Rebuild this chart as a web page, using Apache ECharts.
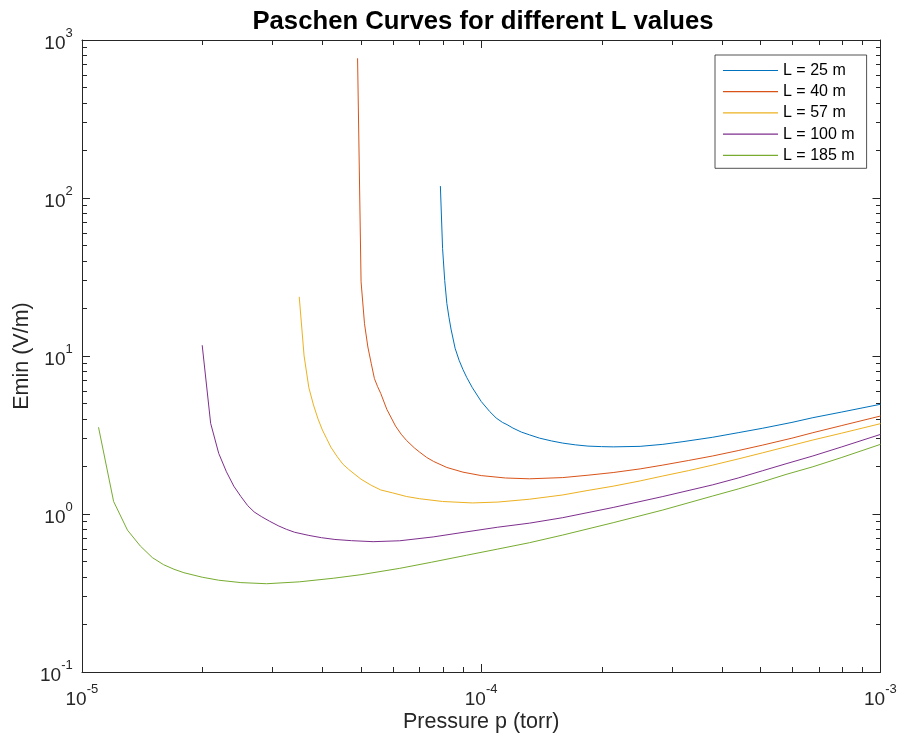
<!DOCTYPE html>
<html>
<head>
<meta charset="utf-8">
<script src="https://cdn.jsdelivr.net/npm/echarts@6/dist/echarts.min.js"></script>
<style>
html,body{margin:0;padding:0;background:#fff;}
#chart{width:900px;height:738px;}
</style>
</head>
<body>
<div id="chart"></div>
<script>
// ---- Data (pressure p in torr, Emin in V/m) ----
const seriesNames = ['L = 25 m', 'L = 40 m', 'L = 57 m', 'L = 100 m', 'L = 185 m'];

const curveL25 = [
  [7.9e-5, 119], [8.0e-5, 48], [8.1e-5, 30], [8.2e-5, 21.5], [8.3e-5, 17.6], [8.4e-5, 14.8],
  [8.6e-5, 11.2], [8.8e-5, 9.4], [9.0e-5, 8.2], [9.2e-5, 7.3], [9.5e-5, 6.3], [1.0e-4, 5.15],
  [1.05e-4, 4.45], [1.09e-4, 4.05], [1.13e-4, 3.8], [1.16e-4, 3.68], [1.2e-4, 3.5], [1.26e-4, 3.3],
  [1.32e-4, 3.17], [1.4e-4, 3.02], [1.5e-4, 2.9], [1.6e-4, 2.81], [1.72e-4, 2.74], [1.85e-4, 2.69],
  [2.0e-4, 2.67], [2.14e-4, 2.66], [2.5e-4, 2.68], [2.85e-4, 2.76], [3.2e-4, 2.87],
  [3.8e-4, 3.06], [4.4e-4, 3.27], [5.07e-4, 3.49], [6.0e-4, 3.8], [6.77e-4, 4.07], [8.0e-4, 4.42],
  [1.0e-3, 4.95]
];
const curveL40 = [
  [4.9e-5, 766], [5.0e-5, 29.5], [5.1e-5, 16], [5.2e-5, 11.4], [5.3e-5, 9.0], [5.4e-5, 7.2],
  [5.5e-5, 6.4], [5.6e-5, 5.8], [5.8e-5, 4.6], [6.1e-5, 3.6], [6.3e-5, 3.2], [6.5e-5, 2.92],
  [6.8e-5, 2.62], [7.0e-5, 2.47], [7.3e-5, 2.28], [7.6e-5, 2.15], [8.2e-5, 1.97], [9.0e-5, 1.84],
  [1.0e-4, 1.75], [1.15e-4, 1.69], [1.32e-4, 1.67], [1.6e-4, 1.70], [1.85e-4, 1.76], [2.14e-4, 1.83],
  [2.5e-4, 1.93], [2.85e-4, 2.04], [3.3e-4, 2.18], [3.8e-4, 2.33], [4.4e-4, 2.52], [5.07e-4, 2.73],
  [6.0e-4, 3.02], [6.77e-4, 3.27], [8.0e-4, 3.63], [1.0e-3, 4.17]
];
const curveL57 = [
  [3.5e-5, 23.7], [3.6e-5, 10], [3.7e-5, 6.3], [3.8e-5, 4.9], [3.9e-5, 4.0], [4.0e-5, 3.4],
  [4.1e-5, 3.0], [4.2e-5, 2.65], [4.35e-5, 2.32], [4.5e-5, 2.07], [4.65e-5, 1.92], [4.8e-5, 1.8],
  [5.0e-5, 1.66], [5.3e-5, 1.52], [5.6e-5, 1.42], [6.0e-5, 1.36], [6.5e-5, 1.29], [7.0e-5, 1.25],
  [8.0e-5, 1.2], [9.5e-5, 1.175], [1.1e-4, 1.19], [1.32e-4, 1.24], [1.6e-4, 1.32], [1.85e-4, 1.41],
  [2.14e-4, 1.50], [2.5e-4, 1.62], [2.85e-4, 1.74], [3.3e-4, 1.88], [3.8e-4, 2.04], [4.4e-4, 2.23],
  [5.07e-4, 2.44], [6.0e-4, 2.72], [6.77e-4, 2.94], [8.0e-4, 3.25], [1.0e-3, 3.73]
];
const curveL100 = [
  [2.0e-5, 11.7], [2.1e-5, 3.75], [2.2e-5, 2.42], [2.3e-5, 1.85], [2.4e-5, 1.5], [2.5e-5, 1.29],
  [2.6e-5, 1.13], [2.7e-5, 1.03], [2.82e-5, 0.96], [2.95e-5, 0.9], [3.1e-5, 0.843], [3.25e-5, 0.8],
  [3.41e-5, 0.766], [3.7e-5, 0.732], [3.98e-5, 0.708], [4.3e-5, 0.69], [4.73e-5, 0.678],
  [5.36e-5, 0.668], [6.25e-5, 0.677], [7.58e-5, 0.716], [9.0e-5, 0.765],
  [1.1e-4, 0.825], [1.32e-4, 0.875], [1.6e-4, 0.948], [2.14e-4, 1.10], [2.85e-4, 1.29],
  [3.8e-4, 1.53], [4.4e-4, 1.69], [5.07e-4, 1.88], [5.8e-4, 2.08], [6.77e-4, 2.33], [8.0e-4, 2.66],
  [1.0e-3, 3.19]
];
const curveL185 = [
  [1.1e-5, 3.54], [1.2e-5, 1.2], [1.3e-5, 0.79], [1.4e-5, 0.627], [1.5e-5, 0.53], [1.6e-5, 0.478],
  [1.7e-5, 0.447], [1.8e-5, 0.425], [2.0e-5, 0.398], [2.2e-5, 0.381], [2.5e-5, 0.368], [2.9e-5, 0.362],
  [3.5e-5, 0.372], [4.26e-5, 0.392], [5.0e-5, 0.413], [6.25e-5, 0.453], [7.5e-5, 0.495],
  [9.18e-5, 0.548], [1.1e-4, 0.6], [1.32e-4, 0.658], [1.6e-4, 0.736], [2.14e-4, 0.881],
  [2.85e-4, 1.06], [3.8e-4, 1.30], [4.4e-4, 1.44], [5.07e-4, 1.60], [5.8e-4, 1.78], [6.77e-4, 1.99],
  [8.0e-4, 2.28], [1.0e-3, 2.76]
];
const curves = [curveL25, curveL40, curveL57, curveL100, curveL185];

// axis ranges (powers of ten)
const xExpRange = [-5, -3];
const yExpRange = [-1, 3];

// ---- Styling ----
const colors = ['#0072BD', '#D95319', '#EDB120', '#7E2F8E', '#77AC30'];
const axisColor = '#262626';
const FONT = '"Liberation Sans", Arial, Helvetica, sans-serif';

function minorTicks(e0, e1) {
  const out = [];
  for (let e = e0; e < e1; e++) {
    for (let k = 2; k <= 9; k++) out.push(e + Math.log10(k));
  }
  return out;
}
const xMinor = minorTicks(xExpRange[0], xExpRange[1]);
const yMinor = minorTicks(yExpRange[0], yExpRange[1]);

const richPow = {
  b: { fontSize: 19, lineHeight: 19, verticalAlign: 'bottom', color: axisColor, fontFamily: FONT },
  s: { fontSize: 13, lineHeight: 13, verticalAlign: 'top', color: axisColor, fontFamily: FONT },
  h: { fontSize: 1, lineHeight: 26.5, verticalAlign: 'middle', color: 'rgba(0,0,0,0)', fontFamily: FONT }
};
function powLabel(v) {
  const e = Math.round(Math.log10(v));
  return '{b|10}{s|' + e + '}{h| }';
}

const gridRect = { left: 82, right: 19, top: 40, bottom: 66 };
const hiddenLine = { show: false, onZero: false };

const option = {
  animation: false,
  backgroundColor: '#ffffff',
  color: colors,
  title: {
    text: 'Paschen Curves for different L values',
    left: 478, textAlign: 'center', top: 4,
    textStyle: { fontFamily: FONT, fontSize: 25.7, fontWeight: 'bold', color: '#000' }
  },
  legend: {
    orient: 'vertical',
    left: 715, top: 55,
    data: seriesNames,
    icon: 'rect',
    itemWidth: 55, itemHeight: 1.2,
    itemGap: 5.2,
    padding: [7.5, 12, 5, 8],
    backgroundColor: '#ffffff',
    borderColor: axisColor, borderWidth: 0.8,
    textStyle: { fontFamily: FONT, fontSize: 16, color: '#000' },
    itemStyle: { borderWidth: 0 }
  },
  grid: [
    Object.assign({ containLabel: false }, gridRect),
    Object.assign({ containLabel: false }, gridRect)
  ],
  xAxis: [
    {
      type: 'log', logBase: 10, gridIndex: 0, position: 'bottom',
      min: Math.pow(10, xExpRange[0]), max: Math.pow(10, xExpRange[1]),
      name: 'Pressure p (torr)', nameLocation: 'middle', nameGap: 39, nameMoveOverlap: false,
      nameTextStyle: { fontFamily: FONT, fontSize: 21.5, color: axisColor, verticalAlign: 'top' },
      axisLine: { show: true, onZero: false, lineStyle: { color: axisColor, width: 1 } },
      axisTick: { show: true, inside: true, length: 8, lineStyle: { color: axisColor } },
      axisLabel: { margin: 11, formatter: powLabel, rich: richPow },
      splitLine: { show: false }, minorTick: { show: false }
    },
    {
      type: 'log', logBase: 10, gridIndex: 0, position: 'top',
      min: Math.pow(10, xExpRange[0]), max: Math.pow(10, xExpRange[1]),
      axisLine: { show: true, onZero: false, lineStyle: { color: axisColor, width: 1 } },
      axisTick: { show: true, inside: true, length: 8, lineStyle: { color: axisColor } },
      axisLabel: { show: false }, splitLine: { show: false }
    },
    {
      type: 'value', gridIndex: 1, position: 'bottom', min: xExpRange[0], max: xExpRange[1],
      axisLine: hiddenLine,
      axisTick: { show: true, inside: true, length: 5, customValues: xMinor, lineStyle: { color: axisColor } },
      axisLabel: { show: false }, splitLine: { show: false }
    },
    {
      type: 'value', gridIndex: 1, position: 'top', min: xExpRange[0], max: xExpRange[1],
      axisLine: hiddenLine,
      axisTick: { show: true, inside: true, length: 5, customValues: xMinor, lineStyle: { color: axisColor } },
      axisLabel: { show: false }, splitLine: { show: false }
    }
  ],
  yAxis: [
    {
      type: 'log', logBase: 10, gridIndex: 0, position: 'left',
      min: Math.pow(10, yExpRange[0]), max: Math.pow(10, yExpRange[1]),
      name: 'Emin (V/m)', nameLocation: 'middle', nameGap: 49, nameRotate: 90, nameMoveOverlap: false,
      nameTextStyle: { fontFamily: FONT, fontSize: 21.5, color: axisColor },
      axisLine: { show: true, onZero: false, lineStyle: { color: axisColor, width: 1 } },
      axisTick: { show: true, inside: true, length: 8, lineStyle: { color: axisColor } },
      axisLabel: { margin: 9, formatter: powLabel, rich: richPow },
      splitLine: { show: false }
    },
    {
      type: 'log', logBase: 10, gridIndex: 0, position: 'right',
      min: Math.pow(10, yExpRange[0]), max: Math.pow(10, yExpRange[1]),
      axisLine: { show: true, onZero: false, lineStyle: { color: axisColor, width: 1 } },
      axisTick: { show: true, inside: true, length: 8, lineStyle: { color: axisColor } },
      axisLabel: { show: false }, splitLine: { show: false }
    },
    {
      type: 'value', gridIndex: 1, position: 'left', min: yExpRange[0], max: yExpRange[1],
      axisLine: hiddenLine,
      axisTick: { show: true, inside: true, length: 5, customValues: yMinor, lineStyle: { color: axisColor } },
      axisLabel: { show: false }, splitLine: { show: false }
    },
    {
      type: 'value', gridIndex: 1, position: 'right', min: yExpRange[0], max: yExpRange[1],
      axisLine: hiddenLine,
      axisTick: { show: true, inside: true, length: 5, customValues: yMinor, lineStyle: { color: axisColor } },
      axisLabel: { show: false }, splitLine: { show: false }
    }
  ],
  series: curves.map((c, i) => ({
    name: seriesNames[i],
    type: 'line',
    xAxisIndex: 0, yAxisIndex: 0,
    data: c,
    showSymbol: false, symbol: 'none',
    smooth: false,
    lineStyle: { width: 1, color: colors[i] },
    itemStyle: { color: colors[i] },
    clip: true
  }))
};

const chart = echarts.init(document.getElementById('chart'), null, { renderer: 'canvas' });
chart.setOption(option);
</script>
</body>
</html>
